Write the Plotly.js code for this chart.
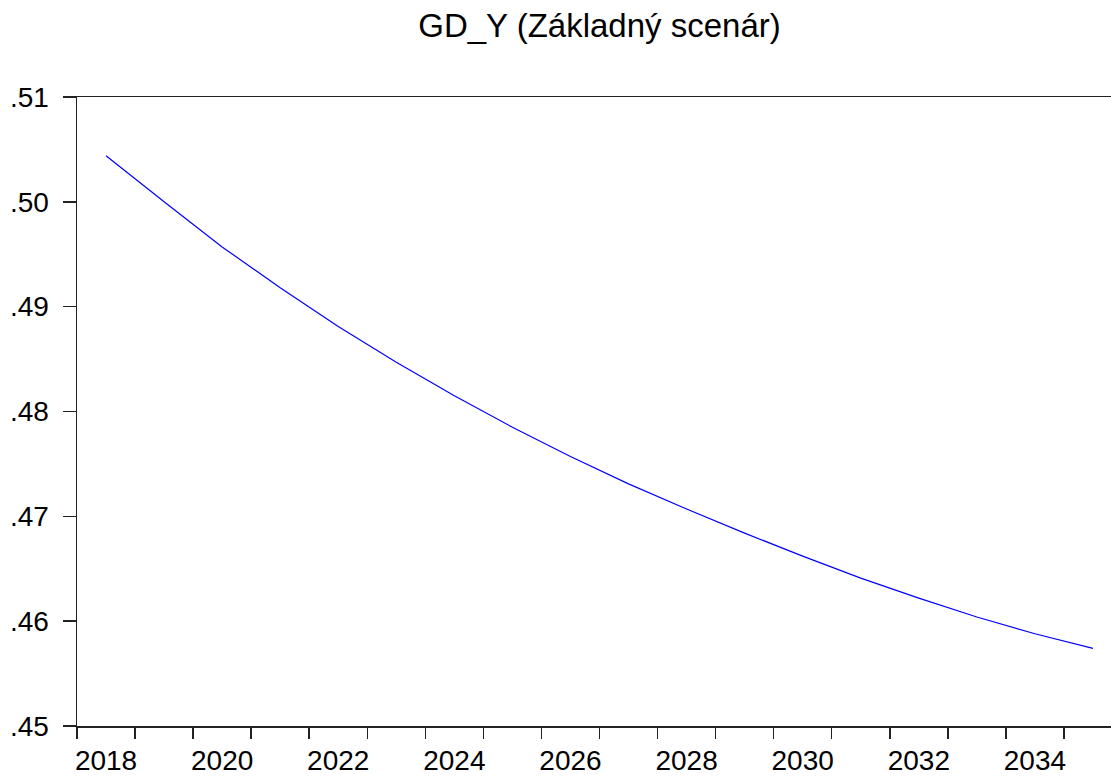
<!DOCTYPE html>
<html>
<head>
<meta charset="utf-8">
<script src="https://cdn.plot.ly/plotly-3.0.1.min.js"></script>
<style>
html, body { margin: 0; padding: 0; overflow: hidden; background: #fff; }
#chart { width: 1140px; height: 777px; }
</style>
</head>
<body>
<div id="chart"></div>
<script>
// Annual observations 2018–2035
const years = [2018, 2019, 2020, 2021, 2022, 2023, 2024, 2025, 2026, 2027, 2028, 2029, 2030, 2031, 2032, 2033, 2034, 2035];
const gdY = [0.5044, 0.5000, 0.4957, 0.4918, 0.4881, 0.4847, 0.4815, 0.4785, 0.4757, 0.4731, 0.4707, 0.4684, 0.4662, 0.4641, 0.4622, 0.4604, 0.4588, 0.4574];
const xLabelYears = [2018, 2020, 2022, 2024, 2026, 2028, 2030, 2032, 2034];
const yTickVals = [0.45, 0.46, 0.47, 0.48, 0.49, 0.50, 0.51];
const yTickText = ['.45', '.46', '.47', '.48', '.49', '.50', '.51'];
const titleText = 'GD_Y (Základný scenár)';

// tick marks at year boundaries (observations sit mid-period)
const boundaries = years.map(y => y - 0.5).concat([years[years.length - 1] + 0.5]);

const font = 'Liberation Sans, Arial, sans-serif';

const trace = {
  x: years,
  y: gdY,
  type: 'scatter',
  mode: 'lines',
  line: { color: '#0000FF', width: 1.2 },
  hoverinfo: 'x+y'
};

const layout = {
  width: 1140,
  height: 777,
  margin: { l: 77, r: 18, t: 97, b: 51 },
  paper_bgcolor: '#ffffff',
  plot_bgcolor: '#ffffff',
  showlegend: false,
  title: {
    text: titleText,
    font: { family: font, size: 33, color: '#000' },
    xref: 'paper', x: 0.5, xanchor: 'center',
    yref: 'container', y: 0.967, yanchor: 'middle'
  },
  xaxis: {
    range: [years[0] - 0.5, years[years.length - 1] + 0.5],
    tickmode: 'array',
    tickvals: xLabelYears,
    ticktext: xLabelYears.map(String),
    ticks: '',
    showgrid: false,
    zeroline: false,
    showline: true,
    linecolor: '#222',
    linewidth: 1.5,
    mirror: true,
    tickfont: { family: font, size: 28, color: '#000' },
    ticklabelstandoff: 9,
    minor: {
      tickmode: 'array',
      tickvals: boundaries,
      ticks: 'outside',
      ticklen: 11,
      tickwidth: 1.5,
      tickcolor: '#222',
      showgrid: false
    }
  },
  yaxis: {
    range: [0.45, 0.51],
    tickmode: 'array',
    tickvals: yTickVals,
    ticktext: yTickText,
    ticks: 'outside',
    ticklen: 13,
    tickwidth: 1.5,
    tickcolor: '#222',
    showgrid: false,
    zeroline: false,
    showline: true,
    linecolor: '#222',
    linewidth: 1.5,
    mirror: true,
    ticklabelstandoff: 8,
    tickfont: { family: font, size: 28, color: '#000' }
  }
};

Plotly.newPlot('chart', [trace], layout, { displayModeBar: false, staticPlot: true });
</script>
</body>
</html>
